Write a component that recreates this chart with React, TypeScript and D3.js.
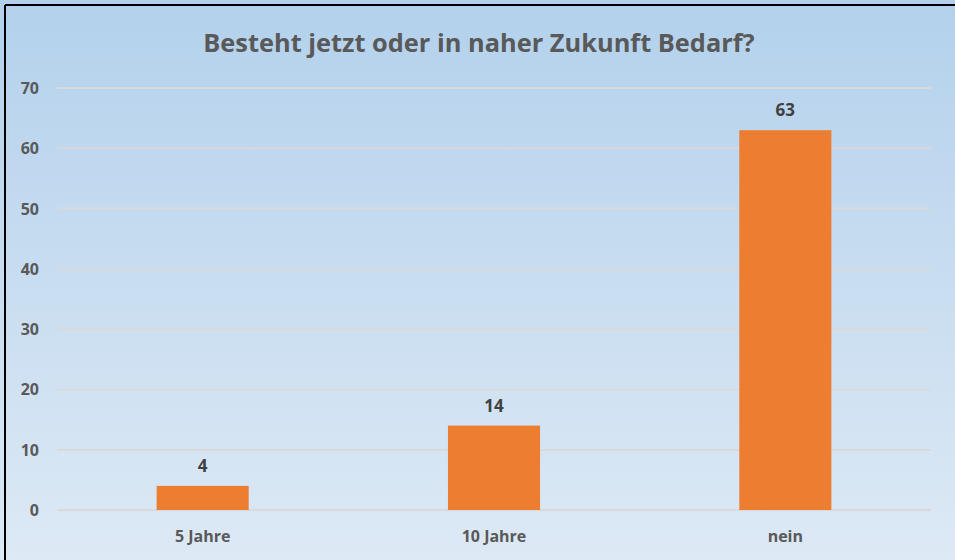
import React from "react";
import * as d3 from "d3";

const categories = ["5 Jahre", "10 Jahre", "nein"];
const values = [4, 14, 63];
const yTicks = [0, 10, 20, 30, 40, 50, 60, 70];
const title = "Besteht jetzt oder in naher Zukunft Bedarf?";

const W = 955, H = 560;
const left = 57, right = 931, top = 88, bottom = 510;

export default function App() {
  const x = d3.scaleBand<string>().domain(categories).range([left, right]).paddingInner(0.684).paddingOuter(0.342);
  const y = d3.scaleLinear().domain([0, 70]).range([bottom, top]);
  const font = "'Open Sans', sans-serif";
  return (
    <svg width={W} height={H} style={{ position: "absolute", left: 0, top: 0 }}>
      <defs>
        <linearGradient id="bg" x1="0" y1="0" x2="0" y2="1">
          <stop offset="0" stopColor="#b3d1ec" />
          <stop offset="1" stopColor="#dde9f5" />
        </linearGradient>
      </defs>
      <rect x={0} y={0} width={W} height={H} fill="url(#bg)" />
      <line x1={5} y1={5} x2={W} y2={5} stroke="#000" strokeWidth={2} />
      <line x1={5} y1={5} x2={5} y2={H} stroke="#000" strokeWidth={2} />
      <text x={479} y={52} textAnchor="middle" fontFamily={font} fontWeight="bold" fontSize={25.4} fill="#595959">{title}</text>
      {yTicks.map((t) => (
        <g key={t}>
          <line x1={left} x2={right} y1={y(t)} y2={y(t)} stroke="#d9d9d9" strokeWidth={2} />
          <text x={39} y={y(t) + 6} textAnchor="end" fontFamily={font} fontWeight="bold" fontSize={16} fill="#595959">{t}</text>
        </g>
      ))}
      {categories.map((c, i) => (
        <g key={c}>
          <rect x={x(c)} y={y(values[i])} width={x.bandwidth()} height={y(0) - y(values[i])} fill="#ed7d31" />
          <text x={x(c)! + x.bandwidth() / 2} y={y(values[i]) - 14} textAnchor="middle" fontFamily={font} fontWeight="bold" fontSize={17} fill="#404040">{values[i]}</text>
          <text x={x(c)! + x.bandwidth() / 2} y={542} textAnchor="middle" fontFamily={font} fontWeight="bold" fontSize={16} fill="#595959">{c}</text>
        </g>
      ))}
    </svg>
  );
}
